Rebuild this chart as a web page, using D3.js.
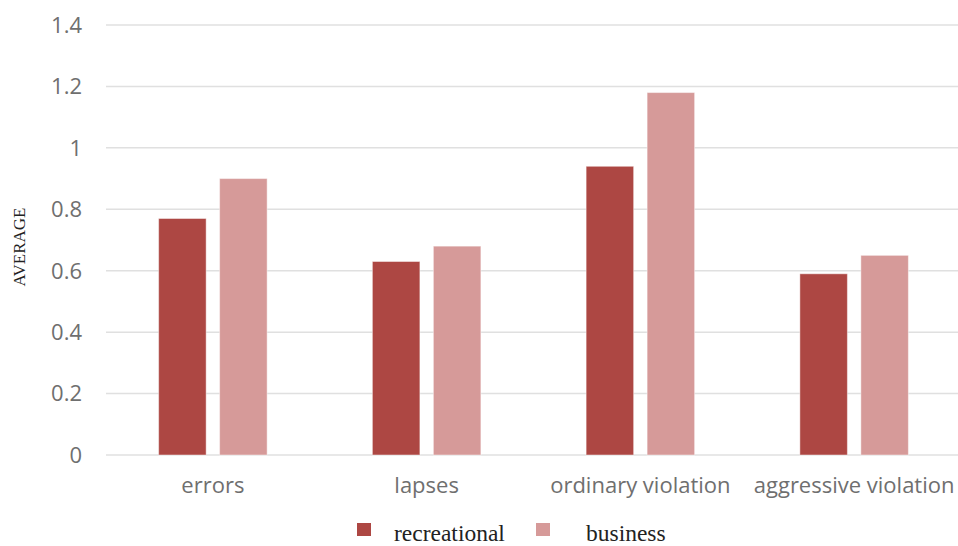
<!DOCTYPE html>
<html>
<head>
<meta charset="utf-8">
<script src="https://cdn.jsdelivr.net/npm/d3@7"></script>
<style>
  html, body { margin: 0; padding: 0; background: #fff; }
  svg { display: block; }
</style>
</head>
<body>
<svg id="chart" width="958" height="546"></svg>
<script>
// Data
const categories = ["errors", "lapses", "ordinary violation", "aggressive violation"];
const seriesNames = ["recreational", "business"];
const recreational = [0.77, 0.63, 0.94, 0.59];
const business = [0.90, 0.68, 1.18, 0.65];
const yTicks = [0, 0.2, 0.4, 0.6, 0.8, 1, 1.2, 1.4];

const colors = ["#ad4743", "#d69a99"];

const rows = categories.map((c, i) => ({cat: c, values: [recreational[i], business[i]]}));

const svg = d3.select("#chart");

// plot box
const plotLeft = 106, plotRight = 961, plotTop = 25, plotBottom = 455;

const x0 = d3.scaleBand()
    .domain(categories)
    .range([plotLeft, plotRight])
    .paddingInner(0)
    .paddingOuter(0);

// groups take ~108px of the ~214px step
const groupPad = (x0.step() - 108.5) / 2;
const x1 = d3.scaleBand()
    .domain(seriesNames)
    .range([groupPad, x0.step() - groupPad])
    .paddingInner(0.221)
    .paddingOuter(0);

const y = d3.scaleLinear()
    .domain([0, 1.4])
    .range([plotBottom, plotTop]);

// gridlines
svg.append("g")
    .selectAll("line")
    .data(yTicks)
    .enter()
    .append("line")
    .attr("x1", plotLeft)
    .attr("x2", 958)
    .attr("y1", d => y(d))
    .attr("y2", d => y(d))
    .attr("stroke", "#e0e0e0")
    .attr("stroke-width", 1.5);

// y tick labels
const fmt = d => String(+d.toFixed(1));
svg.append("g")
    .selectAll("text")
    .data(yTicks)
    .enter()
    .append("text")
    .attr("x", 82)
    .attr("y", d => y(d))
    .attr("dy", "0.36em")
    .attr("text-anchor", "end")
    .style("font-family", "'Open Sans', sans-serif")
    .style("font-size", "22px")
    .style("fill", "#6f6f6f")
    .text(fmt);

// bars
const groups = svg.append("g")
    .selectAll("g")
    .data(rows)
    .enter()
    .append("g")
    .attr("transform", d => `translate(${x0(d.cat)},0)`);

groups.selectAll("rect")
    .data(d => d.values.map((v, i) => ({name: seriesNames[i], value: v, i: i})))
    .enter()
    .append("rect")
    .attr("x", d => x1(d.name))
    .attr("width", x1.bandwidth())
    .attr("y", d => y(d.value))
    .attr("height", d => y(0) - y(d.value))
    .attr("fill", d => colors[d.i])
    .attr("stroke", "#fff")
    .attr("stroke-opacity", 0.45)
    .attr("stroke-width", 1);

// category labels
svg.append("g")
    .selectAll("text")
    .data(categories)
    .enter()
    .append("text")
    .attr("x", d => x0(d) + x0.step() / 2)
    .attr("y", 493)
    .attr("text-anchor", "middle")
    .style("font-family", "'Open Sans', sans-serif")
    .style("font-size", "22px")
    .style("fill", "#6f6f6f")
    .text(d => d);

// y axis title
svg.append("text")
    .attr("transform", "translate(25,247) rotate(-90)")
    .attr("text-anchor", "middle")
    .style("font-family", "'Liberation Serif', 'Times New Roman', serif")
    .style("font-size", "17px")
    .style("fill", "#222")
    .text("AVERAGE");

// legend
const legendX = [357, 536];
const legendTextX = [394, 586];
const legend = svg.append("g")
    .selectAll("g")
    .data(seriesNames)
    .enter()
    .append("g");

legend.append("rect")
    .attr("x", (d, i) => legendX[i])
    .attr("y", 523)
    .attr("width", 14)
    .attr("height", 13)
    .attr("fill", (d, i) => colors[i]);

legend.append("text")
    .attr("x", (d, i) => legendTextX[i])
    .attr("y", 541)
    .style("font-family", "'Liberation Serif', 'Times New Roman', serif")
    .style("font-size", "23.5px")
    .style("fill", "#222")
    .text(d => d);
</script>
</body>
</html>
